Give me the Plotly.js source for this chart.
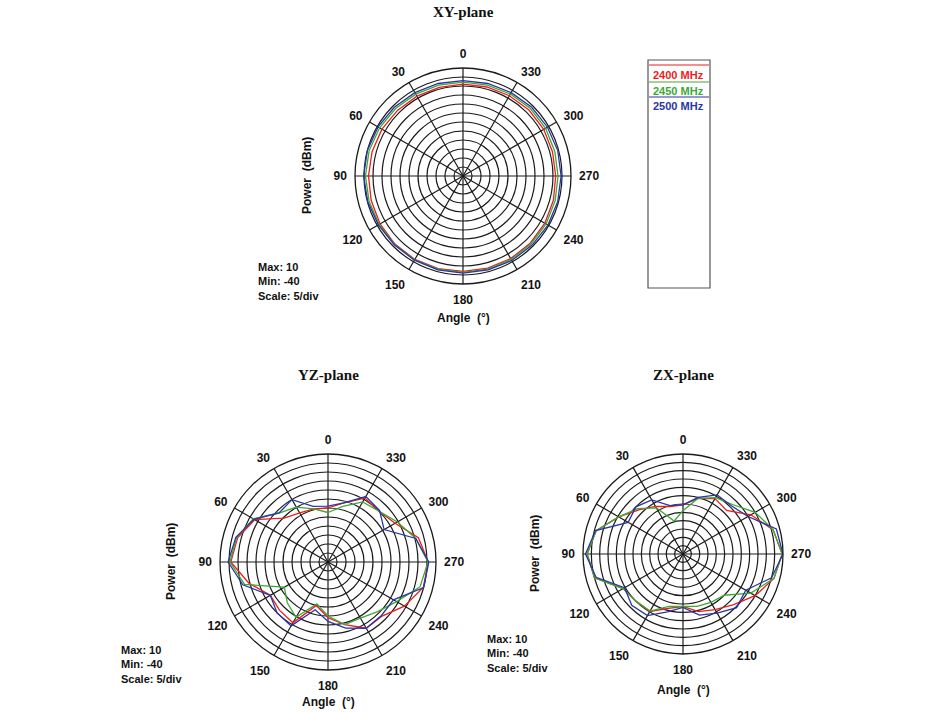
<!DOCTYPE html>
<html>
<head>
<meta charset="utf-8">
<script src="https://cdn.plot.ly/plotly-3.0.1.min.js"></script>
<style>
  html, body { margin: 0; padding: 0; background: #fff; }
  #chart { width: 940px; height: 712px; }
</style>
</head>
<body>
<div id="chart"></div>
<script>
// measurement angles (deg), 15 deg steps
var angles = [0,15,30,45,60,75,90,105,120,135,150,165,180,195,210,225,240,255,270,285,300,315,330,345];
var freqs = ['2400 MHz', '2450 MHz', '2500 MHz'];
var colors = ['#ee1c1c', '#3aaa35', '#2a35a5'];
var tickAngles = [0,30,60,90,120,150,180,210,240,270,300,330];

// XY-plane (dBm)
var xy2400 = [1.0,1.0,1.2,1.5,2.0,2.3,2.5,2.8,3.2,3.5,3.5,3.3,3.0,3.0,3.0,2.8,2.5,2.0,1.5,1.5,1.8,1.8,1.5,1.2];
var xy2450 = [2.2,2.3,2.5,3.0,3.5,4.0,4.2,4.0,3.8,3.8,3.8,3.6,3.5,3.5,3.5,3.4,3.3,3.0,2.8,2.8,3.0,3.0,2.6,2.3];
var xy2500 = [3.0,3.2,3.5,4.0,4.5,5.0,5.2,4.8,4.3,4.0,4.0,4.0,4.0,4.0,4.2,4.3,4.5,4.5,4.5,4.5,4.2,4.0,3.5,3.2];

// YZ-plane (dBm)
var yz2400 = [-20,-19.5,-18.5,-15.5,-3,2,4,-4.5,-13,-12,-11,-25,-19,-14,-7.5,-7.5,-1,4.8,5.7,2,-7,-10,-9,-16];
var yz2450 = [-22.5,-19.5,-14.8,-11.5,-2,2.5,4.5,-2,-22,-18,-14.5,-26,-20,-14,-14,-11,-6,3,5.5,0.5,-5.5,-10,-11.5,-18];
var yz2500 = [-19,-18,-10,-11.5,-2.5,3,5.5,-1,-13,-10,-9,-22.5,-17,-12,-7.5,-8,-8,5,6,0.5,-14,-9.5,-8,-16];

// ZX-plane (dBm)
var zx2400 = [-20.5,-20.5,-17,-12.5,-5.5,4,7.5,5,-8.5,-10,-10.2,-16.2,-18.5,-14.2,-11.5,-7,0,6.5,9.5,6,-3,-13,-11.6,-15.5];
var zx2450 = [-24,-29.5,-18,-11.5,-5.5,4,7.5,5,-8.5,-10,-10.5,-17.5,-18.5,-17.5,-16.5,-15,-3,6.5,9.5,6,0,-8,-11,-15.5];
var zx2500 = [-20.5,-20,-12.5,-10,-12,4.3,8.5,4,-9.5,-6.5,-7.3,-14,-18,-12,-9,-4.5,-6.5,5,10,8,-5,-9,-9,-14.8];

var W = 940, H = 712;
function px(x) { return x / W; }
function py(y) { return 1 - y / H; }

function closed(arr) { return arr.concat([arr[0]]); }
var thetaClosed = angles.concat([360]);

var data = [];
function addPlane(sub, series) {
  for (var i = 0; i < series.length; i++) {
    data.push({
      type: 'scatterpolar',
      subplot: sub,
      r: closed(series[i]),
      theta: thetaClosed,
      mode: 'lines',
      name: freqs[i],
      line: { color: colors[i], width: 1.3 },
      hoverinfo: 'skip'
    });
  }
}
addPlane('polar', [xy2400, xy2450, xy2500]);
addPlane('polar2', [yz2400, yz2450, yz2500]);
addPlane('polar3', [zx2400, zx2450, zx2500]);

function polarCfg(cx, cy, rad) {
  return {
    domain: { x: [px(cx - rad), px(cx + rad)], y: [py(cy + rad), py(cy - rad)] },
    bgcolor: '#fff',
    radialaxis: {
      range: [-50, 10], dtick: 5, tick0: -50,
      showticklabels: false, ticks: '', showline: false,
      gridcolor: '#1a1a1a', gridwidth: 1.2
    },
    angularaxis: {
      rotation: 90, direction: 'counterclockwise',
      tickmode: 'array', tickvals: tickAngles,
      ticktext: tickAngles.map(String),
      ticks: 'outside', ticklen: 5, tickcolor: 'rgba(0,0,0,0)',
      showline: true, linecolor: '#1a1a1a', linewidth: 1.3,
      gridcolor: '#1a1a1a', gridwidth: 1.2,
      tickfont: { family: 'Liberation Sans, Arial', size: 12, color: '#111', weight: 'bold' }
    }
  };
}

var boldSans = { family: 'Liberation Sans, Arial', size: 12, color: '#111', weight: 'bold' };
var titleFont = { family: 'Liberation Serif, Times New Roman', size: 15, color: '#111', weight: 'bold' };

var annotations = [];
function txt(x, y, text, font, extra) {
  var a = { xref: 'paper', yref: 'paper', x: px(x), y: py(y), text: text, showarrow: false,
            font: font, xanchor: 'center', yanchor: 'middle' };
  for (var k in extra) a[k] = extra[k];
  annotations.push(a);
}
function planeLabels(name, cx, cy, titleY, powerX, angleY, infoX, infoY) {
  txt(cx, titleY, name, titleFont);
  txt(powerX, cy, 'Power  (dBm)', boldSans, { textangle: -90 });
  txt(cx, angleY, 'Angle  (°)', boldSans);
  txt(infoX, infoY, 'Max: 10<br>Min: -40<br>Scale: 5/div', { family: 'Liberation Sans, Arial', size: 11, color: '#111', weight: 'bold' },
      { xanchor: 'left', align: 'left', yanchor: 'top' });
}
planeLabels('XY-plane', 463, 176, 12, 307, 318, 256, 259);
planeLabels('YZ-plane', 328, 562, 375, 171, 702, 119, 642);
planeLabels('ZX-plane', 683, 554, 375, 535, 690, 485, 631);

// legend box
for (var i = 0; i < freqs.length; i++) {
  txt(651, 75 + i * 15.5, freqs[i], { family: 'Liberation Sans, Arial', size: 11, color: colors[i], weight: 'bold' },
      { xanchor: 'left' });
}
var shapes = [
  { type: 'rect', xref: 'paper', yref: 'paper', x0: px(648), x1: px(710), y0: py(288), y1: py(60),
    line: { color: '#555', width: 1.2 }, fillcolor: 'rgba(0,0,0,0)' },
  { type: 'line', xref: 'paper', yref: 'paper', x0: px(649), x1: px(709), y0: py(65), y1: py(65),
    line: { color: colors[0], width: 1 } },
  { type: 'line', xref: 'paper', yref: 'paper', x0: px(649), x1: px(709), y0: py(82), y1: py(82),
    line: { color: colors[1], width: 1 } },
  { type: 'line', xref: 'paper', yref: 'paper', x0: px(649), x1: px(709), y0: py(97), y1: py(97),
    line: { color: colors[2], width: 1 } }
];

var layout = {
  width: W, height: H,
  margin: { l: 0, r: 0, t: 0, b: 0 },
  paper_bgcolor: '#fff',
  showlegend: false,
  hovermode: false,
  polar: polarCfg(463, 176, 108),
  polar2: polarCfg(328, 562, 108),
  polar3: polarCfg(683, 554, 100),
  annotations: annotations,
  shapes: shapes
};

Plotly.newPlot('chart', data, layout, { staticPlot: true, displayModeBar: false });
</script>
</body>
</html>
